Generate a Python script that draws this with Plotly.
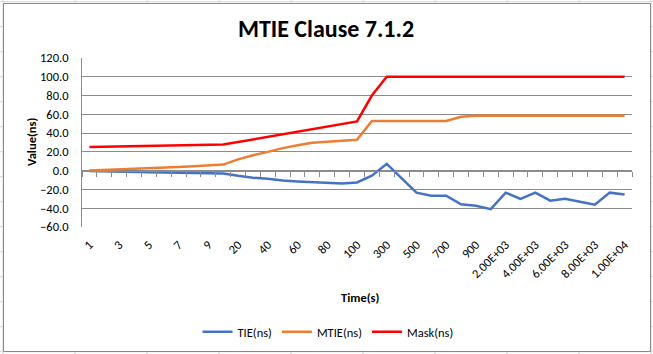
import plotly.graph_objects as go

# ---- data ----
time_s = [1, 2, 3, 4, 5, 6, 7, 8, 9,
          10, 20, 30, 40, 50, 60, 70, 80, 90, 100,
          200, 300, 400, 500, 600, 700, 800, 900, 1000,
          2000, 3000, 4000, 5000, 6000, 7000, 8000, 9000, 10000]
categories = [str(t) for t in time_s]

tie_ns = [-0.3, -0.8, -1.2, -1.4, -1.6, -2.0, -2.3, -2.4, -2.5,
          -3.0, -5.5, -7.5, -8.5, -10.5, -11.5, -12.5, -13.5, -13.8, -12.5,
          -5.3, 7.3, -8.0, -23.4, -26.6, -26.6, -35.8, -37.3, -41.0,
          -23.4, -30.0, -23.4, -31.9, -29.8, -33.0, -36.2, -23.4, -25.5]
mtie_ns = [0.3, 0.8, 1.5, 2.0, 2.6, 3.0, 3.8, 4.8, 5.5,
           6.5, 12.0, 16.5, 20.0, 24.0, 27.0, 29.8, 30.9, 31.9, 33.0,
           53.0, 53.0, 53.0, 53.0, 53.0, 53.0, 57.5, 58.5, 58.5,
           58.5, 58.5, 58.5, 58.5, 58.5, 58.5, 58.5, 58.5, 58.5]
mask_ns = [25.3, 25.6, 25.8, 26.1, 26.4, 26.7, 26.9, 27.2, 27.5,
           27.8, 30.5, 33.3, 36.0, 38.8, 41.5, 44.3, 47.0, 49.8, 52.5,
           80.0, 100.0, 100.0, 100.0, 100.0, 100.0, 100.0, 100.0, 100.0,
           100.0, 100.0, 100.0, 100.0, 100.0, 100.0, 100.0, 100.0, 100.0]

tick_labels = ["1", "3", "5", "7", "9", "20", "40", "60", "80", "100",
               "300", "500", "700", "900", "2.00E+03", "4.00E+03",
               "6.00E+03", "8.00E+03", "1.00E+04"]
tick_cats = categories[::2]

y_ticks = [-60, -40, -20, 0, 20, 40, 60, 80, 100, 120]

# ---- styling ----
FONT = "Carlito, Lato, 'Liberation Sans', sans-serif"
GRID = "#8c8c8c"
W, H = 653, 354
L, R, T, B = 82, 21, 58, 127
PW, PH = W - L - R, H - T - B


def px_x(x):
    return (x - L) / PW


def px_y(y):
    return (H - B - y) / PH


fig = go.Figure()
fig.add_trace(go.Scatter(x=categories, y=tie_ns, name="TIE(ns)", mode="lines",
                         line=dict(color="#4472C4", width=2.5)))
fig.add_trace(go.Scatter(x=categories, y=mtie_ns, name="MTIE(ns)", mode="lines",
                         line=dict(color="#ED7D31", width=2.5)))
fig.add_trace(go.Scatter(x=categories, y=mask_ns, name="Mask(ns)", mode="lines",
                         line=dict(color="#FF0000", width=2.5)))
# invisible carrier for the zero-crossing axis with boundary ticks
fig.add_trace(go.Scatter(x=categories, y=tie_ns, xaxis="x2", mode="lines",
                         line=dict(width=0), opacity=0, showlegend=False,
                         hoverinfo="skip"))

shapes = []
# spreadsheet cell lines behind chart
for k in range(10):
    x = 3 + 72.0 * k
    shapes.append(dict(type="line", xref="paper", yref="paper", layer="below",
                       x0=px_x(x), x1=px_x(x), y0=px_y(0), y1=px_y(H),
                       line=dict(color="#d4d4d4", width=1)))
for k in range(15):
    y = 1.7 + 25 * k
    shapes.append(dict(type="line", xref="paper", yref="paper", layer="below",
                       x0=px_x(0), x1=px_x(W), y0=px_y(y), y1=px_y(y),
                       line=dict(color="#d4d4d4", width=1)))
# chart frame
shapes.append(dict(type="rect", xref="paper", yref="paper", layer="below",
                   x0=px_x(3.5), x1=px_x(650.5), y0=px_y(351.5), y1=px_y(3.5),
                   fillcolor="white", line=dict(color="#8a8a8a", width=1)))

fig.update_layout(
    width=W, height=H, autosize=False,
    margin=dict(l=L, r=R, t=T, b=B),
    paper_bgcolor="white", plot_bgcolor="white",
    font=dict(family=FONT, size=12, color="#000000"),
    title=dict(text="<b>MTIE Clause 7.1.2</b>", x=326 / W, xanchor="center",
               y=1 - 29 / H, yanchor="middle", font=dict(size=24, family=FONT)),
    showlegend=True,
    legend=dict(orientation="h", xref="container", yref="container",
                x=328 / W, xanchor="center",
                y=1 - 332 / H, yanchor="middle", font=dict(size=12.5),
                bgcolor="rgba(0,0,0,0)"),
    hovermode=False,
    xaxis=dict(type="category", categoryorder="array", categoryarray=categories,
               range=[-0.5, len(categories) - 0.5],
               tickmode="array", tickvals=tick_cats, ticktext=tick_labels,
               tickangle=-45, ticks="", showgrid=False, showline=False,
               zeroline=False, ticklabelstandoff=7, automargin=False,
               tickfont=dict(size=12.5)),
    xaxis2=dict(type="category", categoryorder="array", categoryarray=categories,
                overlaying="x", anchor="free", position=60 / 180,
                range=[-0.5, len(categories) - 0.5],
                tickmode="linear", tick0=0, dtick=1, tickson="boundaries",
                ticks="outside", ticklen=5, tickcolor=GRID, tickwidth=1,
                showticklabels=False, showgrid=False, showline=True,
                linecolor=GRID, linewidth=1, zeroline=False),
    yaxis=dict(range=[-60, 120], tickmode="array", tickvals=y_ticks,
               tickformat=".1f", showgrid=True, gridcolor=GRID, gridwidth=1,
               zeroline=False, showline=True, linecolor=GRID, linewidth=1,
               ticks="", ticklabelstandoff=10, automargin=False,
               tickfont=dict(size=12.5)),
    shapes=shapes,
    annotations=[
        dict(text="<b>Value(ns)</b>", xref="paper", yref="paper",
             x=px_x(31), y=px_y(142), xanchor="center", yanchor="middle",
             textangle=-90, showarrow=False, font=dict(size=12.5)),
        dict(text="<b>Time(s)</b>", xref="paper", yref="paper",
             x=px_x(360), y=px_y(297), xanchor="center", yanchor="middle",
             showarrow=False, font=dict(size=12.5)),
    ],
)

fig.write_html("out.html")
